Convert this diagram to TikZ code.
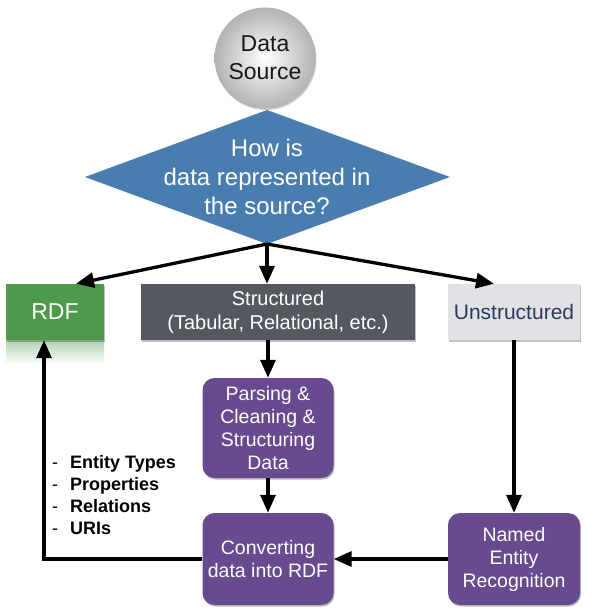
\documentclass[tikz,border=0pt]{standalone}
\usepackage{fontspec}
\setmainfont{Liberation Sans}
\usetikzlibrary{shapes.geometric,arrows.meta,shadows,calc}
\definecolor{qblue}{HTML}{4A7DAF}
\definecolor{rdfgreen}{HTML}{4E9A4C}
\definecolor{strgray}{HTML}{55595F}
\definecolor{unsgray}{HTML}{E1E2E5}
\definecolor{unstext}{HTML}{2B3A5E}
\definecolor{procpurple}{HTML}{674B8E}
\tikzset{
  arr/.style={line width=3.3pt,-{Triangle[length=18pt,width=15pt]}},
  shad/.style={drop shadow={shadow xshift=1pt,shadow yshift=-1.5pt,opacity=0.25,fill=black}},
  catbox/.style={rectangle,inner sep=0pt,align=center,shad},
  procbox/.style={rectangle,rounded corners=12pt,fill=procpurple,text=white,inner sep=0pt,align=center,
    minimum width=131pt,font=\fontsize{19.5}{23}\selectfont,shad},
}
\begin{document}
\begin{tikzpicture}[x=1pt,y=-1pt]
\useasboundingbox[fill=white] (0,0) rectangle (602,615);
% RDF reflection
\shade[top color=rdfgreen!45,bottom color=white] (6,340) rectangle (104,364);
\node[circle,minimum size=101pt,inner sep=0pt,shading=radial,inner color=white,outer color=gray!60,
  align=center,font=\fontsize{23}{28}\selectfont,text=black!90,
  drop shadow={shadow xshift=1pt,shadow yshift=-1.5pt,opacity=0.2,fill=black}] (src) at (265,58) {Data\\Source};
% decision diamond
\fill[qblue] (85,177) -- (267,110) -- (450,177) -- (267,244) -- cycle;
\coordinate (qs) at (267,244);
\node[inner sep=0pt,text=white,align=center,font=\fontsize{24}{29}\selectfont] (q) at (267,177)
  {How is\\data represented in\\the source?};
\node[catbox,fill=rdfgreen,text=white,minimum width=98pt,minimum height=56pt,
  font=\fontsize{23}{24}\selectfont] (rdf) at (55,312) {RDF};
\node[catbox,fill=strgray,text=white,minimum width=274pt,minimum height=56pt,
  font=\fontsize{20}{24}\selectfont] (str) at (278,312) {Structured\\(Tabular, Relational, etc.)};
\node[catbox,fill=unsgray,text=unstext,minimum width=132pt,minimum height=56pt,
  font=\fontsize{21}{24}\selectfont] (uns) at (514,312) {Unstructured};
\node[procbox,minimum height=100pt] (parse) at (268,428) {Parsing \&\\Cleaning \&\\Structuring\\Data};
\node[procbox,minimum height=92pt] (conv) at (268,559) {Converting\\data into RDF};
\node[procbox,minimum width=132pt,minimum height=92pt] (ner) at (514,559) {Named\\Entity\\Recognition};
\node[anchor=west,inner sep=0pt,font=\fontsize{18}{22}\selectfont] (lst) at (52,497)
  {\begin{tabular}{@{}l@{\hspace{12pt}}l@{}}
   - & \textbf{Entity Types}\\
   - & \textbf{Properties}\\
   - & \textbf{Relations}\\
   - & \textbf{URIs}
   \end{tabular}};
% connectors
\draw[arr] (qs) -- ([xshift=21pt]rdf.north);
\draw[arr] (qs) -- (qs |- str.north);
\draw[arr] (qs) -- ([xshift=-20pt]uns.north);
\draw[arr] (parse.north |- str.south) -- (parse.north);
\draw[arr] (parse.south) -- (conv.north);
\draw[arr] (uns.south) -- (ner.north);
\draw[arr] (ner.west) -- (conv.east);
\draw[arr,line join=miter] (conv.west) -| ([xshift=-11pt]rdf.south);
\end{tikzpicture}
\end{document}
